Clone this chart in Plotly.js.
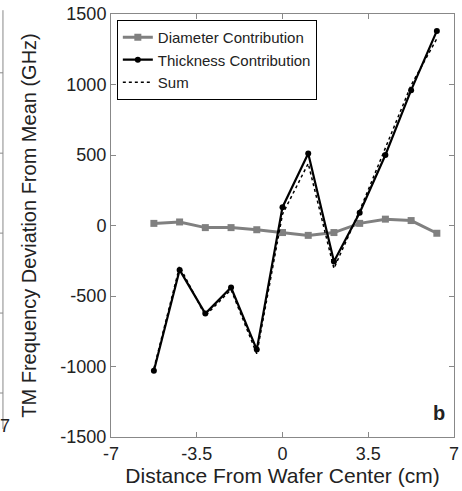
<!DOCTYPE html>
<html>
<head>
<meta charset="utf-8">
<script src="https://cdn.plot.ly/plotly-3.0.1.min.js"></script>
<style>html,body{margin:0;padding:0;background:#fff;}#chart{width:462px;height:491px;}</style>
</head>
<body>
<div id="chart"></div>
<script>
const positions = [-5.25, -4.2, -3.15, -2.1, -1.05, 0, 1.05, 2.1, 3.15, 4.2, 5.25, 6.3];
const diameterContribution = [15, 25, -15, -15, -30, -50, -70, -50, 15, 45, 35, -55];
const thicknessContribution = [-1030, -315, -625, -440, -880, 130, 510, -255, 90, 500, 960, 1380];
const sumValues = [-1015, -290, -640, -455, -910, 80, 440, -305, 105, 545, 995, 1325];
const xTicks = [-7, -3.5, 0, 3.5, 7];
const xTickLabels = ['-7', '-3.5', '0', '3.5', '7'];
const yTicks = [-1500, -1000, -500, 0, 500, 1000, 1500];
const yTickLabels = ['-1500', '-1000', '-500', '0', '500', '1000', '1500'];
const seriesNames = ['Diameter Contribution', 'Thickness Contribution', 'Sum'];

const font = 'Liberation Sans, Arial, sans-serif';
const textColor = '#222';
const traces = [
  {x: positions, y: diameterContribution, name: seriesNames[0], mode: 'lines+markers',
   line: {color: '#808080', width: 3}, marker: {symbol: 'square', size: 7, color: '#808080'}},
  {x: positions, y: thicknessContribution, name: seriesNames[1], mode: 'lines+markers',
   line: {color: '#000', width: 2.2}, marker: {symbol: 'circle', size: 6, color: '#000'}},
  {x: positions, y: sumValues, name: seriesNames[2], mode: 'lines',
   line: {color: '#000', width: 1.5, dash: 'dot'}}
];

// neighbouring (cropped) panel edge at far left
const leftPanelTicks = [0.861, 0.671, 0.482, 0.293, 0.104];
const leftTickShapes = leftPanelTicks.map(p => ({type: 'line', xref: 'paper', yref: 'paper',
  x0: -0.33, x1: -0.315, y0: p, y1: p, line: {color: '#888', width: 1}}));

const layout = {
  width: 462, height: 491,
  margin: {l: 111, r: 8, t: 14, b: 54},
  paper_bgcolor: '#fff', plot_bgcolor: '#fff',
  font: {family: font, color: textColor, size: 18},
  showlegend: true,
  legend: {x: 0.017, y: 0.986, xanchor: 'left', yanchor: 'top', bgcolor: '#fff',
    bordercolor: '#000', borderwidth: 1, font: {size: 15, family: font, color: textColor},
    tracegroupgap: 0, itemwidth: 30},
  xaxis: {range: [-7, 7], tickvals: xTicks, ticktext: xTickLabels, ticks: 'inside', ticklen: 5,
    tickcolor: '#888', showline: true, linecolor: '#888', linewidth: 1, mirror: 'ticks',
    showgrid: false, zeroline: false, tickfont: {size: 18, family: font, color: textColor},
    automargin: false,
    title: {text: 'Distance From Wafer Center (cm)', font: {size: 21, family: font, color: textColor}, standoff: 0}},
  yaxis: {range: [-1500, 1500], tickvals: yTicks, ticktext: yTickLabels, ticks: 'inside', ticklen: 5,
    tickcolor: '#888', showline: true, linecolor: '#888', linewidth: 1, mirror: 'ticks',
    showgrid: false, zeroline: false, tickfont: {size: 18, family: font, color: textColor},
    automargin: false,
    title: {text: 'TM Frequency Deviation From Mean (GHz)', font: {size: 20, family: font, color: textColor}, standoff: 18}},
  shapes: [
    {type: 'line', xref: 'paper', yref: 'paper', x0: -0.315, x1: -0.315, y0: 0.019, y1: 1.009,
      line: {color: '#888', width: 1}},
    ...leftTickShapes
  ],
  annotations: [
    {text: '<b>b</b>', xref: 'paper', yref: 'paper', x: 0.98, y: 0.025, xanchor: 'right', yanchor: 'bottom',
      showarrow: false, font: {size: 20, family: font, color: textColor}},
    {text: '7', xref: 'paper', yref: 'paper', x: -0.33, y: 0.025, xanchor: 'left', yanchor: 'middle',
      showarrow: false, font: {size: 18, family: font, color: textColor}}
  ]
};

Plotly.newPlot('chart', traces, layout, {displayModeBar: false, staticPlot: true});
</script>
</body>
</html>
